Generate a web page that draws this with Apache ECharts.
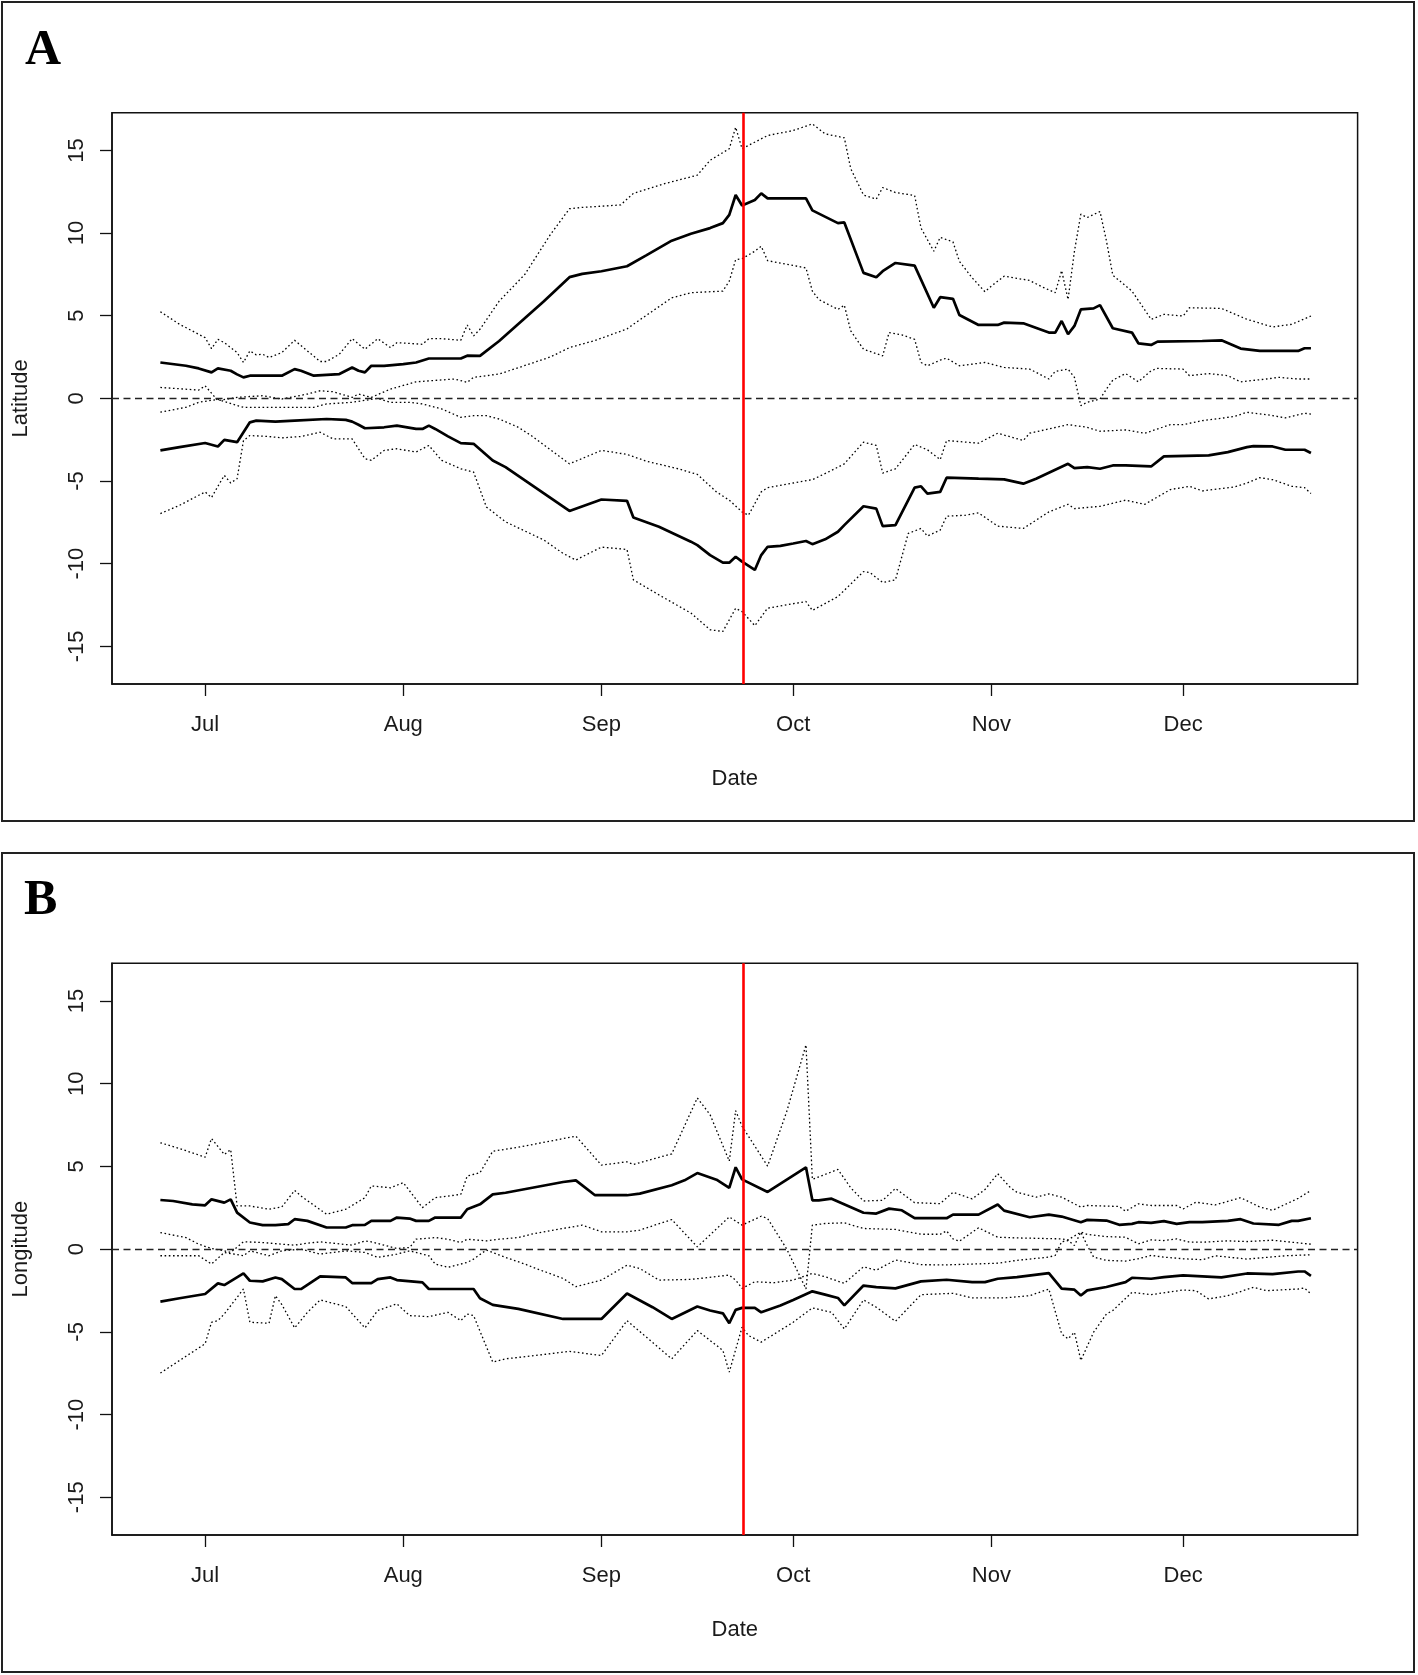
<!DOCTYPE html>
<html><head><meta charset="utf-8">
<script src="https://cdn.jsdelivr.net/npm/echarts@6/dist/echarts.min.js"></script>
<style>html,body{margin:0;padding:0;background:#fff}#chart{width:1418px;height:1675px}</style>
</head><body><div id="chart"></div>
<script>
// ---------- axis / reference data ----------
const YEAR = 2015;
const monthTickDates = ['07-01','08-01','09-01','10-01','11-01','12-01'];
const monthTickLabels = ['Jul','Aug','Sep','Oct','Nov','Dec'];
const yTickValues = [-15,-10,-5,0,5,10,15];
const yLimit = 17.28;
const xLimitDates = ['06-16T10:20','12-28T07:12'];
const equinoxDate = '09-23T04:00';
const panelLetters = ['A','B'];
const panelYTitles = ['Latitude','Longitude'];
const xTitle = 'Date';

// ---------- Panel A: Latitude ----------
const latMeanPos = [['06-24',2.17],['06-28',1.97],['06-30',1.81],['07-02',1.57],['07-03',1.81],['07-05',1.67],['07-06',1.45],['07-07',1.27],['07-08',1.37],['07-13',1.37],['07-15',1.77],['07-16',1.67],['07-18',1.37],['07-22',1.47],['07-24',1.87],['07-25',1.67],['07-26',1.57],['07-27',1.97],['07-29',1.97],['08-01',2.07],['08-03',2.17],['08-05',2.41],['08-10',2.41],['08-11',2.58],['08-13',2.57],['08-16',3.47],['08-23',5.88],['08-27',7.33],['08-29',7.53],['09-01',7.69],['09-05',7.99],['09-08',8.65],['09-12',9.54],['09-15',9.96],['09-18',10.3],['09-20',10.6],['09-21',11.1],['09-22',12.3],['09-23',11.67],['09-25',12.0],['09-26',12.4],['09-27',12.1],['10-03',12.1],['10-04',11.37],['10-08',10.6],['10-09',10.64],['10-12',7.59],['10-14',7.33],['10-15',7.69],['10-17',8.19],['10-20',8.03],['10-23',5.48],['10-24',6.12],['10-26',6.02],['10-27',5.04],['10-30',4.44],['11-02',4.44],['11-03',4.58],['11-06',4.54],['11-10',3.98],['11-11',3.98],['11-12',4.68],['11-13',3.88],['11-14',4.38],['11-15',5.38],['11-17',5.44],['11-18',5.64],['11-20',4.24],['11-23',3.98],['11-24',3.33],['11-26',3.23],['11-27',3.43],['12-04',3.47],['12-07',3.51],['12-10',3.01],['12-13',2.87],['12-19',2.87],['12-20',3.03],['12-21',3.03]];
const latHiPos = [['06-24',5.24],['06-27',4.48],['07-01',3.67],['07-02',3.01],['07-03',3.57],['07-04',3.37],['07-06',2.77],['07-07',2.17],['07-08',2.87],['07-09',2.63],['07-10',2.67],['07-11',2.47],['07-13',2.77],['07-15',3.51],['07-17',2.87],['07-19',2.23],['07-20',2.23],['07-22',2.67],['07-24',3.61],['07-26',2.97],['07-28',3.61],['07-30',3.07],['07-31',3.37],['08-04',3.27],['08-05',3.61],['08-07',3.61],['08-10',3.51],['08-11',4.44],['08-12',3.78],['08-13',4.18],['08-16',5.88],['08-20',7.49],['08-24',9.9],['08-27',11.47],['08-29',11.55],['09-04',11.7],['09-06',12.4],['09-11',13.0],['09-16',13.5],['09-18',14.4],['09-21',15.1],['09-22',16.4],['09-23',15.1],['09-27',15.9],['10-01',16.2],['10-04',16.6],['10-06',16.0],['10-09',15.76],['10-10',13.9],['10-12',12.3],['10-14',12.05],['10-15',12.75],['10-17',12.45],['10-20',12.27],['10-21',10.3],['10-23',8.9],['10-24',9.74],['10-26',9.46],['10-27',8.29],['10-29',7.29],['10-31',6.45],['11-01',6.79],['11-03',7.39],['11-07',7.13],['11-09',6.73],['11-11',6.39],['11-12',7.73],['11-13',5.98],['11-14',8.9],['11-15',11.14],['11-16',10.94],['11-18',11.3],['11-19',9.54],['11-20',7.45],['11-23',6.49],['11-26',4.78],['11-28',5.08],['12-01',4.98],['12-02',5.48],['12-07',5.44],['12-11',4.78],['12-15',4.32],['12-18',4.48],['12-21',4.98]];
const latLoPos = [['06-24',0.66],['06-30',0.5],['07-01',0.76],['07-03',-0.14],['07-06',0.06],['07-10',0.16],['07-13',-0.04],['07-17',0.26],['07-19',0.46],['07-21',0.4],['07-24',0.06],['07-25',0.26],['07-27',0.06],['07-30',0.56],['08-03',1.0],['08-09',1.17],['08-11',0.97],['08-12',1.27],['08-16',1.47],['08-24',2.5],['08-27',3.07],['08-31',3.5],['09-05',4.2],['09-06',4.48],['09-09',5.28],['09-12',6.08],['09-15',6.39],['09-20',6.49],['09-21',7.09],['09-22',8.39],['09-23',8.45],['09-25',8.9],['09-26',9.2],['09-27',8.33],['10-03',7.89],['10-04',6.49],['10-05',5.98],['10-08',5.38],['10-09',5.64],['10-10',4.08],['10-12',2.97],['10-15',2.57],['10-16',3.98],['10-18',3.84],['10-20',3.57],['10-21',2.17],['10-22',1.97],['10-24',2.31],['10-25',2.43],['10-27',1.97],['10-31',2.17],['11-03',1.87],['11-07',1.77],['11-10',1.17],['11-11',1.63],['11-13',1.77],['11-14',1.27],['11-15',-0.44],['11-16',-0.24],['11-18',-0.04],['11-19',0.56],['11-20',1.1],['11-22',1.5],['11-24',1.0],['11-26',1.67],['11-27',1.81],['12-01',1.77],['12-02',1.37],['12-05',1.5],['12-08',1.37],['12-10',1.0],['12-14',1.17],['12-16',1.27],['12-19',1.17],['12-21',1.17]];
const latMeanNeg = [['06-24',-3.15],['06-27',-2.95],['07-01',-2.7],['07-03',-2.91],['07-04',-2.51],['07-06',-2.65],['07-07',-2.05],['07-08',-1.45],['07-09',-1.35],['07-12',-1.41],['07-15',-1.35],['07-20',-1.25],['07-23',-1.3],['07-24',-1.41],['07-25',-1.6],['07-26',-1.81],['07-29',-1.75],['07-31',-1.65],['08-03',-1.85],['08-04',-1.85],['08-05',-1.65],['08-06',-1.85],['08-08',-2.3],['08-10',-2.71],['08-12',-2.75],['08-15',-3.76],['08-17',-4.16],['08-27',-6.81],['09-01',-6.12],['09-05',-6.2],['09-06',-7.21],['09-10',-7.77],['09-15',-8.67],['09-16',-8.88],['09-18',-9.48],['09-20',-9.94],['09-21',-9.94],['09-22',-9.58],['09-23',-9.88],['09-25',-10.38],['09-26',-9.48],['09-27',-8.98],['09-29',-8.92],['10-01',-8.78],['10-03',-8.63],['10-04',-8.82],['10-06',-8.53],['10-08',-8.07],['10-09',-7.67],['10-12',-6.53],['10-14',-6.67],['10-15',-7.73],['10-17',-7.67],['10-20',-5.4],['10-21',-5.32],['10-22',-5.76],['10-24',-5.66],['10-25',-4.8],['10-30',-4.86],['11-03',-4.9],['11-06',-5.16],['11-08',-4.86],['11-13',-3.96],['11-14',-4.22],['11-16',-4.16],['11-18',-4.26],['11-20',-4.06],['11-22',-4.06],['11-26',-4.12],['11-28',-3.51],['12-05',-3.45],['12-08',-3.25],['12-11',-2.95],['12-12',-2.89],['12-15',-2.91],['12-17',-3.11],['12-20',-3.11],['12-21',-3.31]];
const latHiNeg = [['06-24',-0.84],['06-28',-0.54],['06-30',-0.24],['07-03',-0.06],['07-06',-0.44],['07-07',-0.54],['07-18',-0.54],['07-20',-0.34],['07-24',-0.24],['07-28',0.0],['07-30',-0.24],['08-02',-0.24],['08-04',-0.34],['08-07',-0.64],['08-10',-1.15],['08-12',-1.05],['08-14',-1.05],['08-16',-1.25],['08-19',-1.75],['08-21',-2.25],['08-27',-3.96],['09-01',-3.15],['09-05',-3.39],['09-08',-3.8],['09-13',-4.26],['09-16',-4.6],['09-19',-5.66],['09-21',-6.16],['09-23',-6.87],['09-24',-7.07],['09-26',-5.66],['09-27',-5.4],['10-01',-5.12],['10-04',-4.92],['10-07',-4.36],['10-09',-3.96],['10-12',-2.65],['10-14',-2.85],['10-15',-4.52],['10-17',-4.26],['10-20',-2.79],['10-22',-3.11],['10-24',-3.71],['10-25',-2.55],['10-28',-2.65],['10-30',-2.71],['11-02',-2.11],['11-06',-2.55],['11-07',-2.11],['11-13',-1.59],['11-16',-1.75],['11-18',-1.99],['11-22',-1.91],['11-25',-2.11],['11-29',-1.59],['12-01',-1.59],['12-04',-1.35],['12-09',-1.1],['12-11',-0.84],['12-15',-1.04],['12-17',-1.18],['12-20',-0.9],['12-21',-0.95]];
const latLoNeg = [['06-24',-6.97],['06-27',-6.47],['07-01',-5.66],['07-02',-6.0],['07-03',-5.32],['07-04',-4.66],['07-05',-5.12],['07-06',-4.86],['07-07',-2.55],['07-08',-2.25],['07-11',-2.31],['07-13',-2.39],['07-16',-2.31],['07-19',-2.05],['07-21',-2.45],['07-24',-2.45],['07-26',-3.65],['07-27',-3.75],['07-29',-3.15],['07-31',-3.05],['08-03',-3.25],['08-05',-2.85],['08-07',-3.75],['08-10',-4.26],['08-12',-4.46],['08-14',-6.57],['08-17',-7.47],['08-23',-8.57],['08-26',-9.38],['08-28',-9.78],['09-01',-9.0],['09-05',-9.14],['09-06',-10.98],['09-10',-11.89],['09-15',-12.99],['09-18',-14.0],['09-20',-14.1],['09-22',-12.7],['09-23',-12.9],['09-25',-13.75],['09-27',-12.69],['10-03',-12.29],['10-04',-12.83],['10-08',-11.99],['10-12',-10.48],['10-13',-10.54],['10-15',-11.14],['10-17',-10.98],['10-19',-8.17],['10-21',-7.87],['10-22',-8.33],['10-24',-7.97],['10-25',-7.13],['10-28',-7.07],['10-30',-6.93],['11-02',-7.73],['11-06',-7.87],['11-10',-6.87],['11-13',-6.41],['11-14',-6.67],['11-18',-6.53],['11-22',-6.16],['11-25',-6.41],['11-29',-5.52],['12-02',-5.32],['12-04',-5.6],['12-09',-5.36],['12-11',-5.12],['12-13',-4.8],['12-15',-4.92],['12-18',-5.32],['12-20',-5.4],['12-21',-5.76]];

// ---------- Panel B: Longitude ----------
const lonMeanPos = [['06-24',2.97],['06-26',2.91],['06-29',2.71],['07-01',2.65],['07-02',3.01],['07-04',2.81],['07-05',3.01],['07-06',2.21],['07-08',1.61],['07-10',1.45],['07-12',1.45],['07-14',1.51],['07-15',1.81],['07-17',1.71],['07-20',1.31],['07-23',1.31],['07-24',1.45],['07-26',1.47],['07-27',1.71],['07-30',1.71],['07-31',1.91],['08-02',1.85],['08-03',1.71],['08-05',1.71],['08-06',1.91],['08-10',1.91],['08-11',2.41],['08-13',2.71],['08-15',3.31],['08-17',3.41],['08-26',4.06],['08-28',4.16],['08-31',3.26],['09-05',3.26],['09-07',3.36],['09-12',3.86],['09-14',4.16],['09-16',4.6],['09-19',4.2],['09-21',3.7],['09-22',4.95],['09-23',4.22],['09-27',3.46],['10-03',4.95],['10-04',2.95],['10-05',2.95],['10-07',3.05],['10-12',2.2],['10-14',2.15],['10-16',2.45],['10-18',2.35],['10-20',1.87],['10-25',1.87],['10-26',2.09],['10-30',2.09],['11-02',2.7],['11-03',2.33],['11-07',1.93],['11-10',2.09],['11-12',1.97],['11-15',1.63],['11-16',1.77],['11-19',1.73],['11-21',1.47],['11-23',1.53],['11-24',1.63],['11-26',1.59],['11-28',1.69],['11-30',1.53],['12-02',1.63],['12-04',1.63],['12-08',1.71],['12-10',1.81],['12-12',1.55],['12-16',1.47],['12-18',1.71],['12-19',1.71],['12-21',1.87]];
const lonHiPos = [['06-24',6.43],['06-27',6.08],['07-01',5.56],['07-02',6.69],['07-04',5.72],['07-05',6.02],['07-06',2.61],['07-08',2.61],['07-11',2.41],['07-13',2.55],['07-15',3.55],['07-16',3.21],['07-20',2.11],['07-23',2.41],['07-26',3.11],['07-27',3.82],['07-30',3.71],['08-01',4.02],['08-04',2.51],['08-06',3.11],['08-10',3.31],['08-11',4.42],['08-13',4.62],['08-15',5.92],['08-19',6.16],['08-28',6.83],['09-01',5.08],['09-05',5.28],['09-06',5.12],['09-12',5.76],['09-16',9.14],['09-18',8.13],['09-21',5.32],['09-22',8.37],['09-23',7.43],['09-27',5.02],['09-30',8.33],['10-03',12.35],['10-04',4.22],['10-08',4.82],['10-10',3.71],['10-12',2.91],['10-15',2.95],['10-17',3.67],['10-20',2.81],['10-24',2.75],['10-26',3.44],['10-29',3.04],['10-31',3.6],['11-02',4.56],['11-04',3.71],['11-05',3.44],['11-08',3.14],['11-10',3.34],['11-12',3.14],['11-15',2.54],['11-16',2.64],['11-21',2.58],['11-22',2.29],['11-24',2.74],['11-26',2.64],['11-30',2.64],['12-01',2.43],['12-03',2.84],['12-06',2.67],['12-10',3.11],['12-13',2.55],['12-15',2.35],['12-19',3.07],['12-21',3.55]];
const lonLoPos = [['06-24',1.0],['06-28',0.7],['06-30',0.3],['07-02',0.04],['07-04',-0.1],['07-05',-0.2],['07-07',0.45],['07-10',0.4],['07-13',0.3],['07-15',0.24],['07-17',0.36],['07-19',0.44],['07-21',0.36],['07-24',0.24],['07-26',0.5],['07-27',0.44],['07-29',0.24],['07-31',0.04],['08-02',0.1],['08-03',0.6],['08-06',0.7],['08-08',0.6],['08-10',0.4],['08-11',0.6],['08-14',0.5],['08-16',0.6],['08-19',0.7],['08-21',0.9],['08-26',1.25],['08-29',1.45],['09-01',1.05],['09-05',1.05],['09-07',1.15],['09-12',1.79],['09-16',0.14],['09-21',1.95],['09-23',1.45],['09-26',1.99],['09-27',1.85],['09-30',0.0],['10-03',-2.4],['10-04',1.45],['10-06',1.55],['10-09',1.59],['10-12',1.25],['10-17',1.19],['10-21',0.9],['10-24',0.9],['10-25',1.1],['10-26',0.62],['10-27',0.48],['10-30',1.29],['11-02',0.72],['11-05',0.68],['11-12',0.62],['11-13',0.56],['11-15',1.03],['11-16',0.89],['11-19',0.76],['11-22',0.72],['11-24',0.32],['11-26',0.56],['11-28',0.52],['11-30',0.62],['12-02',0.42],['12-04',0.42],['12-08',0.5],['12-11',0.46],['12-15',0.54],['12-20',0.34],['12-21',0.3]];
const lonMeanNeg = [['06-24',-3.17],['06-27',-2.97],['07-01',-2.71],['07-03',-2.07],['07-04',-2.17],['07-07',-1.47],['07-08',-1.91],['07-10',-1.95],['07-12',-1.71],['07-13',-1.81],['07-15',-2.41],['07-16',-2.41],['07-19',-1.65],['07-23',-1.71],['07-24',-2.05],['07-27',-2.05],['07-28',-1.81],['07-30',-1.71],['07-31',-1.87],['08-04',-2.01],['08-05',-2.41],['08-12',-2.41],['08-13',-2.97],['08-15',-3.37],['08-19',-3.61],['08-26',-4.22],['09-01',-4.22],['09-05',-2.68],['09-09',-3.51],['09-12',-4.22],['09-16',-3.47],['09-18',-3.71],['09-20',-3.88],['09-21',-4.48],['09-22',-3.67],['09-23',-3.55],['09-25',-3.55],['09-26',-3.82],['09-29',-3.41],['10-01',-3.07],['10-04',-2.55],['10-06',-2.75],['10-08',-2.95],['10-09',-3.4],['10-12',-2.2],['10-14',-2.3],['10-17',-2.37],['10-21',-1.95],['10-25',-1.85],['10-29',-1.99],['10-31',-1.99],['11-02',-1.79],['11-05',-1.69],['11-10',-1.45],['11-12',-2.39],['11-14',-2.45],['11-15',-2.8],['11-16',-2.49],['11-19',-2.29],['11-22',-1.99],['11-23',-1.73],['11-26',-1.79],['11-28',-1.69],['12-01',-1.59],['12-04',-1.65],['12-07',-1.71],['12-11',-1.47],['12-15',-1.51],['12-19',-1.35],['12-20',-1.35],['12-21',-1.61]];
const lonHiNeg = [['06-24',-0.4],['06-30',-0.4],['07-02',-0.9],['07-04',-0.2],['07-07',-0.4],['07-08',-0.1],['07-11',-0.4],['07-13',-0.1],['07-16',0.0],['07-19',-0.3],['07-23',-0.1],['07-26',-0.2],['07-28',-0.5],['07-31',-0.3],['08-02',-0.1],['08-05',-0.4],['08-06',-0.9],['08-08',-1.1],['08-11',-0.8],['08-12',-0.6],['08-14',-0.05],['08-17',-0.5],['08-20',-0.9],['08-22',-1.2],['08-26',-1.77],['08-28',-2.27],['09-01',-1.87],['09-05',-0.97],['09-07',-1.17],['09-10',-1.87],['09-15',-1.83],['09-21',-1.57],['09-22',-1.87],['09-23',-2.37],['09-25',-1.97],['09-28',-2.03],['10-01',-1.87],['10-04',-1.47],['10-06',-1.67],['10-09',-2.07],['10-12',-1.07],['10-14',-1.27],['10-17',-0.66],['10-21',-0.94],['10-25',-0.95],['10-29',-0.9],['11-02',-0.85],['11-05',-0.68],['11-10',-0.48],['11-11',-0.38],['11-12',0.45],['11-13',0.52],['11-14',0.22],['11-15',1.03],['11-16',0.22],['11-17',-0.48],['11-19',-0.68],['11-22',-0.72],['11-24',-0.58],['11-26',-0.38],['11-28',-0.48],['12-01',-0.58],['12-04',-0.64],['12-06',-0.4],['12-11',-0.6],['12-17',-0.4],['12-21',-0.34]];
const lonLoNeg = [['06-24',-7.49],['06-27',-6.73],['07-01',-5.72],['07-02',-4.42],['07-03',-4.32],['07-04',-3.92],['07-07',-2.41],['07-08',-4.42],['07-11',-4.48],['07-12',-2.81],['07-13',-3.35],['07-15',-4.76],['07-17',-3.82],['07-19',-3.07],['07-23',-3.47],['07-26',-4.76],['07-28',-3.71],['07-31',-3.31],['08-02',-4.02],['08-05',-4.08],['08-08',-3.82],['08-10',-4.32],['08-11',-3.92],['08-12',-4.02],['08-15',-6.83],['08-17',-6.63],['08-23',-6.37],['08-27',-6.18],['09-01',-6.43],['09-05',-4.32],['09-12',-6.63],['09-16',-4.92],['09-18',-5.52],['09-20',-6.12],['09-21',-7.43],['09-23',-4.72],['09-24',-5.22],['09-26',-5.62],['10-01',-4.42],['10-04',-3.55],['10-07',-3.82],['10-09',-4.82],['10-12',-3.07],['10-14',-3.51],['10-17',-4.36],['10-21',-2.75],['10-26',-2.67],['10-29',-2.95],['11-03',-2.95],['11-07',-2.81],['11-10',-2.41],['11-12',-5.12],['11-13',-5.42],['11-14',-5.02],['11-15',-6.73],['11-17',-5.02],['11-19',-3.92],['11-20',-3.71],['11-23',-2.61],['11-26',-2.75],['12-01',-2.47],['12-03',-2.51],['12-05',-3.01],['12-08',-2.81],['12-12',-2.31],['12-14',-2.51],['12-19',-2.41],['12-20',-2.35],['12-21',-2.71]];

// ---------- build ----------
function toTime(s) {
  const parts = s.split('T');
  const md = parts[0].split('-').map(Number);
  let h = 0, mi = 0;
  if (parts[1]) { const hm = parts[1].split(':').map(Number); h = hm[0]; mi = hm[1]; }
  return Date.UTC(YEAR, md[0] - 1, md[1], h, mi);
}
const tickTimes = monthTickDates.map(toTime);
const FONT = '"Liberation Sans", Arial, Helvetica, sans-serif';
const panels = [
  {top: 112.7, height: 571.3, sets: [latHiPos, latLoPos, latHiNeg, latLoNeg, latMeanPos, latMeanNeg]},
  {top: 963.3, height: 571.7, sets: [lonHiPos, lonLoPos, lonHiNeg, lonLoNeg, lonMeanPos, lonMeanNeg]}
];
const grids = [], xAxes = [], yAxes = [], series = [];
panels.forEach((p, i) => {
  grids.push({left: 112, top: p.top, width: 1245.6, height: p.height, show: true,
    borderColor: '#111', borderWidth: 1.5, backgroundColor: 'transparent', containLabel: false});
  xAxes.push({type: 'value', gridIndex: i, min: toTime(xLimitDates[0]), max: toTime(xLimitDates[1]),
    axisLine: {show: true, onZero: false, lineStyle: {color: '#111', width: 1.5}},
    axisTick: {show: true, customValues: tickTimes, length: 12, lineStyle: {color: '#111', width: 1.3}},
    axisLabel: {show: true, customValues: tickTimes, margin: 30, fontSize: 22, lineHeight: 22, color: '#1a1a1a', fontFamily: FONT,
      formatter: v => { const k = tickTimes.indexOf(v); return k >= 0 ? monthTickLabels[k] : ''; }},
    splitLine: {show: false},
    name: xTitle, nameLocation: 'middle', nameGap: 84,
    nameTextStyle: {fontSize: 22, lineHeight: 22, color: '#1a1a1a', fontFamily: FONT}});
  yAxes.push({type: 'value', gridIndex: i, min: -yLimit, max: yLimit,
    axisLine: {show: true, onZero: false, lineStyle: {color: '#111', width: 1.5}},
    axisTick: {show: true, customValues: yTickValues, length: 12, lineStyle: {color: '#111', width: 1.3}},
    axisLabel: {show: true, customValues: yTickValues, rotate: 90, margin: 24, fontSize: 22, lineHeight: 22, color: '#1a1a1a', fontFamily: FONT},
    splitLine: {show: false},
    name: panelYTitles[i], nameLocation: 'middle', nameRotate: 90, nameGap: 80,
    nameTextStyle: {fontSize: 22, lineHeight: 22, color: '#1a1a1a', fontFamily: FONT}});
  p.sets.forEach((arr, k) => {
    const solid = k >= 4;
    const s = {type: 'line', xAxisIndex: i, yAxisIndex: i, silent: true, animation: false,
      showSymbol: false, symbol: 'none', z: solid ? 4 : 2,
      data: arr.map(d => [toTime(d[0]), d[1]]),
      lineStyle: solid ? {color: '#000', width: 2.7} : {color: '#000', width: 1.3, type: [1.6, 2.6]}};
    if (k === 5) {
      s.markLine = {silent: true, animation: false, symbol: ['none', 'none'], label: {show: false},
        data: [
          {yAxis: 0, lineStyle: {color: '#222', width: 1.4, type: [7, 4.5]}},
          {xAxis: toTime(equinoxDate), lineStyle: {color: '#ff0000', width: 2.6, type: 'solid'}}
        ]};
    }
    series.push(s);
  });
});

const chart = echarts.init(document.getElementById('chart'), null, {renderer: 'canvas'});
chart.setOption({
  animation: false,
  backgroundColor: '#fff',
  textStyle: {fontFamily: FONT},
  grid: grids, xAxis: xAxes, yAxis: yAxes, series: series,
  graphic: [
    {type: 'rect', silent: true, shape: {x: 2, y: 2, width: 1412, height: 819}, style: {fill: 'transparent', stroke: '#222', lineWidth: 2}},
    {type: 'rect', silent: true, shape: {x: 2, y: 853, width: 1412, height: 819}, style: {fill: 'transparent', stroke: '#222', lineWidth: 2}},
    {type: 'text', silent: true, x: 25, y: 51, style: {text: panelLetters[0], fill: '#000', font: 'bold 50px "Liberation Serif", "Times New Roman", serif', textAlign: 'left', textVerticalAlign: 'middle', align: 'left', verticalAlign: 'middle'}},
    {type: 'text', silent: true, x: 24, y: 901, style: {text: panelLetters[1], fill: '#000', font: 'bold 50px "Liberation Serif", "Times New Roman", serif', textAlign: 'left', textVerticalAlign: 'middle', align: 'left', verticalAlign: 'middle'}}
  ]
});
</script></body></html>
